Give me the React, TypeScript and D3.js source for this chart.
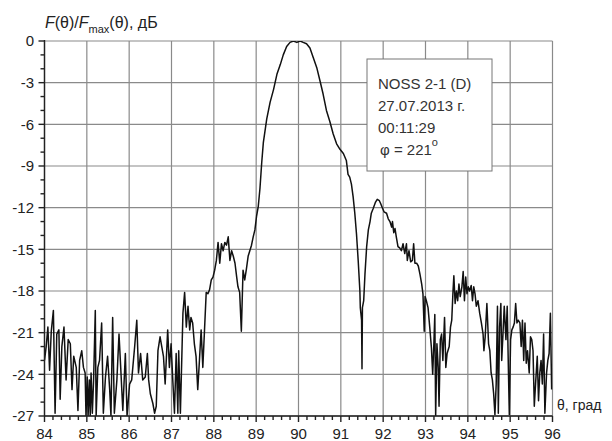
import * as d3 from 'd3';

// angle, deg
const theta = [
  84.0, 84.04, 84.08, 84.12, 84.16, 84.21, 84.25, 84.29, 84.34, 84.37, 84.41, 84.46, 84.51, 84.56, 84.61,
  84.65, 84.69, 84.75, 84.79, 84.83, 84.88, 84.92, 84.96, 84.98, 85.01, 85.03, 85.06, 85.08, 85.1, 85.13,
  85.16, 85.2, 85.22, 85.26, 85.3, 85.35, 85.39, 85.44, 85.49, 85.54, 85.57, 85.61, 85.65, 85.71, 85.76,
  85.8, 85.85, 85.91, 85.95, 86.01, 86.06, 86.13, 86.18, 86.22, 86.27, 86.32, 86.38, 86.43, 86.46, 86.5,
  86.56, 86.6, 86.64, 86.68, 86.73, 86.77, 86.81, 86.85, 86.91, 86.95, 86.99, 87.03, 87.07, 87.11, 87.15,
  87.17, 87.21, 87.27, 87.31, 87.35, 87.39, 87.43, 87.46, 87.5, 87.54, 87.58, 87.62, 87.66, 87.7, 87.74,
  87.78, 87.82, 87.86, 87.9, 87.94, 87.98, 88.02, 88.06, 88.1, 88.14, 88.18, 88.22, 88.26, 88.3, 88.34,
  88.38, 88.42, 88.46, 88.5, 88.54, 88.57, 88.61, 88.65, 88.69, 88.73, 88.77, 88.81, 88.85, 88.89, 88.93,
  88.97, 89.01, 89.05, 89.09, 89.13, 89.17, 89.25, 89.33, 89.41, 89.49, 89.57, 89.64, 89.72, 89.8, 89.88,
  89.96, 90.04, 90.11, 90.19, 90.27, 90.35, 90.43, 90.51, 90.58, 90.66, 90.74, 90.82, 90.9, 90.98, 91.06,
  91.13, 91.17, 91.21, 91.25, 91.29, 91.33, 91.37, 91.41, 91.45, 91.46, 91.49, 91.5, 91.51, 91.54, 91.57,
  91.61, 91.65, 91.69, 91.72, 91.76, 91.82, 91.86, 91.91, 91.94, 91.98, 92.02, 92.08, 92.12, 92.16, 92.2,
  92.22, 92.25, 92.28, 92.31, 92.35, 92.39, 92.43, 92.47, 92.51, 92.55, 92.57, 92.61, 92.65, 92.69, 92.72,
  92.75, 92.79, 92.83, 92.87, 92.91, 92.94, 92.97, 92.99, 93.02, 93.06, 93.1, 93.14, 93.17, 93.2, 93.22,
  93.24, 93.27, 93.3, 93.32, 93.35, 93.38, 93.41, 93.45, 93.48, 93.51, 93.56, 93.59, 93.62, 93.65, 93.67,
  93.7, 93.73, 93.76, 93.79, 93.82, 93.86, 93.89, 93.92, 93.95, 93.98, 94.01, 94.04, 94.08, 94.11, 94.14,
  94.17, 94.2, 94.24, 94.28, 94.32, 94.36, 94.38, 94.41, 94.45, 94.49, 94.52, 94.55, 94.58, 94.61, 94.64,
  94.67, 94.7, 94.72, 94.75, 94.78, 94.8, 94.83, 94.86, 94.9, 94.93, 94.96, 94.98, 95.01, 95.04, 95.07,
  95.1, 95.13, 95.16, 95.19, 95.23, 95.26, 95.29, 95.32, 95.35, 95.38, 95.41, 95.45, 95.48, 95.51, 95.54,
  95.57, 95.6, 95.64, 95.67, 95.7, 95.73, 95.76, 95.79, 95.82, 95.86, 95.89, 95.92, 95.95, 95.98,
];

// F/Fmax, dB
const level = [
  -23.0, -22.0, -20.6, -23.7, -20.9, -19.4, -26.8, -21.1, -20.8, -25.8, -22.0, -20.6, -24.4, -21.5, -21.8,
  -25.1, -22.7, -23.5, -26.6, -23.0, -22.3, -23.5, -23.9, -27.0, -24.2, -27.0, -24.4, -27.0, -23.9, -26.8,
  -24.4, -19.4, -27.0, -23.5, -23.0, -20.3, -26.8, -24.2, -22.7, -25.1, -27.0, -19.9, -26.8, -24.4, -21.1,
  -23.5, -26.6, -22.5, -27.0, -24.7, -24.4, -22.0, -20.1, -23.9, -22.5, -24.4, -24.2, -22.5, -24.4, -25.4,
  -26.1, -26.8, -26.3, -22.3, -21.3, -22.0, -22.7, -24.7, -20.8, -23.5, -21.8, -24.4, -26.8, -22.5, -26.8,
  -22.3, -26.8, -19.6, -18.1, -20.6, -19.1, -20.8, -19.9, -20.3, -21.8, -22.7, -25.1, -23.0, -20.8, -23.5,
  -20.8, -18.1, -18.2, -17.9, -17.2, -17.0, -16.5, -15.8, -14.5, -16.0, -14.6, -15.1, -14.5, -14.7, -14.1,
  -15.8, -15.1, -15.5, -16.0, -17.0, -17.7, -18.1, -20.9, -16.5, -17.2, -16.4, -15.5, -15.1, -14.7, -14.1,
  -13.6, -12.6, -11.9, -10.6, -8.8, -7.3, -5.6, -4.4, -3.5, -2.4, -1.7, -1.0, -0.4, -0.1, 0.0,
  -0.1, 0.0, -0.1, -0.2, -0.5, -1.2, -1.9, -2.9, -3.8, -5.0, -5.8, -6.7, -7.4, -7.8, -8.1,
  -8.6, -9.6, -9.8, -10.3, -11.2, -12.4, -13.9, -15.8, -18.0, -19.2, -20.1, -23.6, -19.2, -18.7, -16.8,
  -14.8, -13.6, -13.0, -12.4, -12.1, -11.6, -11.4, -11.5, -11.7, -12.0, -12.3, -12.4, -12.8, -13.0, -13.4,
  -13.0, -13.8, -13.5, -14.1, -14.8, -14.9, -15.1, -14.6, -15.3, -14.6, -15.8, -15.1, -15.9, -15.8, -14.6,
  -16.0, -16.0, -16.2, -16.8, -17.5, -18.2, -20.9, -18.4, -18.7, -19.2, -20.6, -22.1, -24.0, -21.6, -19.7,
  -27.0, -21.8, -23.5, -26.3, -21.5, -21.1, -23.0, -19.9, -23.5, -22.5, -22.0, -20.6, -20.1, -18.0, -16.9,
  -18.9, -18.0, -18.7, -17.5, -18.4, -17.7, -16.6, -18.7, -17.0, -18.2, -17.7, -18.0, -17.6, -18.7, -17.7,
  -18.2, -19.1, -18.7, -19.6, -20.3, -21.1, -22.3, -21.3, -18.9, -21.8, -22.3, -23.9, -24.4, -25.4, -26.9,
  -24.7, -19.1, -26.8, -20.6, -18.9, -23.0, -21.1, -19.1, -21.5, -19.1, -23.9, -26.9, -21.5, -20.8, -20.6,
  -20.3, -18.9, -20.3, -20.1, -20.3, -22.0, -20.1, -23.0, -20.3, -23.2, -22.3, -23.9, -21.3, -21.5, -22.3,
  -26.3, -24.7, -22.7, -25.9, -23.9, -23.0, -24.7, -21.1, -26.8, -23.9, -23.0, -22.5, -19.6, -25.1,
];

const xTicks = [84, 85, 86, 87, 88, 89, 90, 91, 92, 93, 94, 95, 96];
const yTicks = [0, -3, -6, -9, -12, -15, -18, -21, -24, -27];
const legendLines = ['NOSS 2-1 (D)', '27.07.2013 г.', '00:11:29'];

const W = 612;
const H = 441;
const left = 44.5;
const right = 552.5;
const top = 41;
const bottom = 416;
const font = "'Liberation Sans', Arial, sans-serif";

export default function App() {
  const x = d3.scaleLinear().domain([84, 96]).range([left, right]);
  const y = d3.scaleLinear().domain([-27, 0]).range([bottom, top]);

  const line = d3
    .line<number>()
    .x((_, i) => x(theta[i]))
    .y((d) => y(d));

  const minorX = d3.range(84, 96.001, 0.2);
  const minorY = d3.range(-27, 0.001, 1);

  return (
    <svg
      width={W}
      height={H}
      style={{ position: 'absolute', left: 0, top: 0, background: '#fff' }}
      fontFamily={font}
    >
      <defs>
        <clipPath id="plot">
          <rect x={left} y={top} width={right - left} height={bottom - top} />
        </clipPath>
      </defs>

      {/* grid */}
      <g stroke="#8a8a8a" strokeWidth={1.2}>
        {xTicks.map((t) => (
          <line key={'gx' + t} x1={x(t)} x2={x(t)} y1={top} y2={bottom} />
        ))}
        {yTicks.map((t) => (
          <line key={'gy' + t} x1={left} x2={right} y1={y(t)} y2={y(t)} />
        ))}
      </g>

      {/* curve */}
      <path
        d={line(level) ?? ''}
        fill="none"
        stroke="#111"
        strokeWidth={1.5}
        strokeLinejoin="round"
        clipPath="url(#plot)"
      />

      {/* axes */}
      <g stroke="#222" strokeWidth={1.4}>
        <line x1={left} x2={left} y1={top - 1} y2={bottom} />
        <line x1={left} x2={right} y1={bottom} y2={bottom} />
        {minorY.map((t) => (
          <line key={'ty' + t} x1={left - (t % 3 === 0 ? 6 : 4)} x2={left} y1={y(t)} y2={y(t)} />
        ))}
        {minorX.map((t, i) => (
          <line key={'tx' + i} x1={x(t)} x2={x(t)} y1={bottom} y2={bottom + (i % 5 === 0 ? 6 : 4)} />
        ))}
      </g>

      {/* tick labels */}
      <g fontSize={15} fill="#222">
        {yTicks.map((t) => (
          <text key={'ly' + t} x={34} y={y(t)} dy="0.36em" textAnchor="end">
            {t}
          </text>
        ))}
        {xTicks.map((t) => (
          <text key={'lx' + t} x={x(t)} y={439} textAnchor="middle">
            {t}
          </text>
        ))}
      </g>

      {/* axis titles */}
      <text x={45} y={28} fontSize={16} fill="#222">
        <tspan fontStyle="italic">F</tspan>
        <tspan>(θ)/</tspan>
        <tspan fontStyle="italic">F</tspan>
        <tspan fontSize={11} dy={5}>max</tspan>
        <tspan dy={-5}>(θ), дБ</tspan>
      </text>
      <text x={557} y={410} fontSize={14} fill="#222">
        θ, град
      </text>

      {/* legend box */}
      <rect x={367} y={59} width={125} height={112} fill="#fff" stroke="#777" strokeWidth={1} />
      <g fontSize={15} fill="#333">
        {legendLines.map((s, i) => (
          <text key={s} x={378} y={89 + i * 22}>
            {s}
          </text>
        ))}
        <text x={380} y={155}>
          φ = 221
          <tspan fontSize={11} dy={-9}>o</tspan>
        </text>
      </g>
    </svg>
  );
}
